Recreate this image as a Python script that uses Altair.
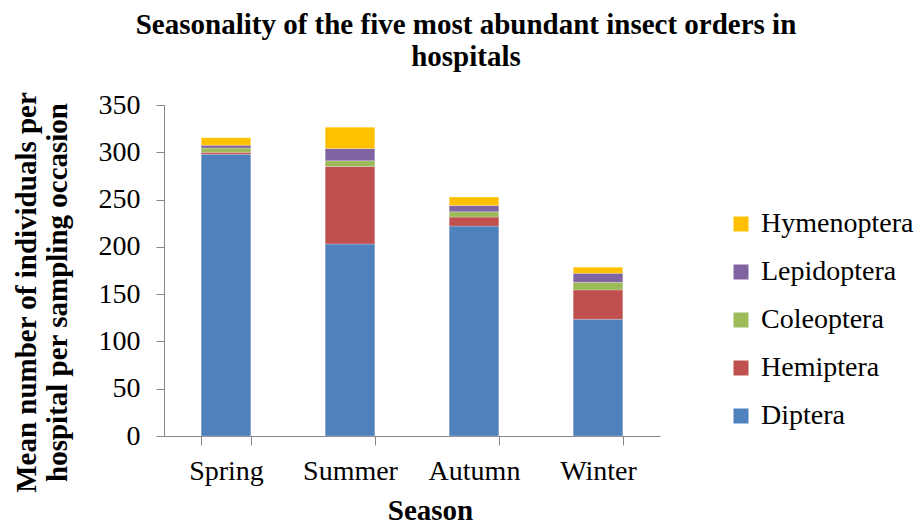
import altair as alt
import pandas as pd

seasons = ["Spring", "Summer", "Autumn", "Winter"]
orders = ["Diptera", "Hemiptera", "Coleoptera", "Lepidoptera", "Hymenoptera"]
colors = ["#4F81BD", "#C0504D", "#9BBB59", "#8064A2", "#FFC000"]
diptera = [298, 203, 222, 123.5]
hemiptera = [2, 82, 9.5, 31]
coleoptera = [4.5, 6, 5.7, 8]
lepidoptera = [3, 13, 6.4, 9.5]
hymenoptera = [8, 22.5, 9, 6.5]

series = [diptera, hemiptera, coleoptera, lepidoptera, hymenoptera]
rows = []
for oi, (name, vals) in enumerate(zip(orders, series)):
    for s, v in zip(seasons, vals):
        rows.append({"Season": s, "Order": name, "Value": v, "idx": oi})
df = pd.DataFrame(rows)

FONT = "Liberation Serif"

chart = alt.Chart(df).mark_bar(stroke="white", strokeWidth=0.4, strokeOpacity=0.6).encode(
    x=alt.X("Season:N", sort=seasons,
            scale=alt.Scale(paddingInner=0.6, paddingOuter=0.3),
            axis=alt.Axis(title="Season", labelAngle=0, tickBand="extent",
                          tickSize=9, domainColor="#868686", tickColor="#868686",
                          labelFont=FONT, labelFontSize=28, labelColor="black",
                          labelPadding=12,
                          titleFont=FONT, titleFontSize=29, titleFontWeight="bold",
                          titleColor="black", titleX=266, titlePadding=11)),
    y=alt.Y("Value:Q", stack="zero",
            scale=alt.Scale(domain=[0, 350], nice=False),
            axis=alt.Axis(title=["Mean number of individuals per", "hospital per sampling occasion"],
                          values=[0, 50, 100, 150, 200, 250, 300, 350],
                          grid=False, tickSize=8, domainColor="#868686", tickColor="#868686",
                          labelFont=FONT, labelFontSize=28, labelColor="black",
                          labelPadding=16,
                          titleFont=FONT, titleFontSize=29, titleFontWeight="bold",
                          titleColor="black", titleY=187, titlePadding=26,
                          titleLineHeight=31)),
    color=alt.Color("Order:N", sort=orders,
                    scale=alt.Scale(domain=orders, range=colors),
                    legend=alt.Legend(title=None, orient="none", legendX=563, legendY=105,
                                      direction="vertical", values=orders[::-1],
                                      symbolType="square", symbolSize=225,
                                      symbolStrokeWidth=0,
                                      labelFont=FONT, labelFontSize=28, labelColor="black",
                                      rowPadding=20, labelOffset=6)),
    order=alt.Order("idx:Q", sort="ascending"),
).properties(
    width=496, height=331,
    title=alt.TitleParams(
        text=["Seasonality of the five most abundant insect orders in", "hospitals"],
        font=FONT, fontSize=29, fontWeight="bold", color="black",
        anchor="middle", dx=54, offset=19, lineHeight=32),
    autosize=alt.AutoSizeParams(type="none"),
    padding={"left": 156, "top": 97, "right": 256, "bottom": 90},
).configure_view(stroke=None)

chart.save("out.html", embed_options={"renderer": "svg", "actions": False})
